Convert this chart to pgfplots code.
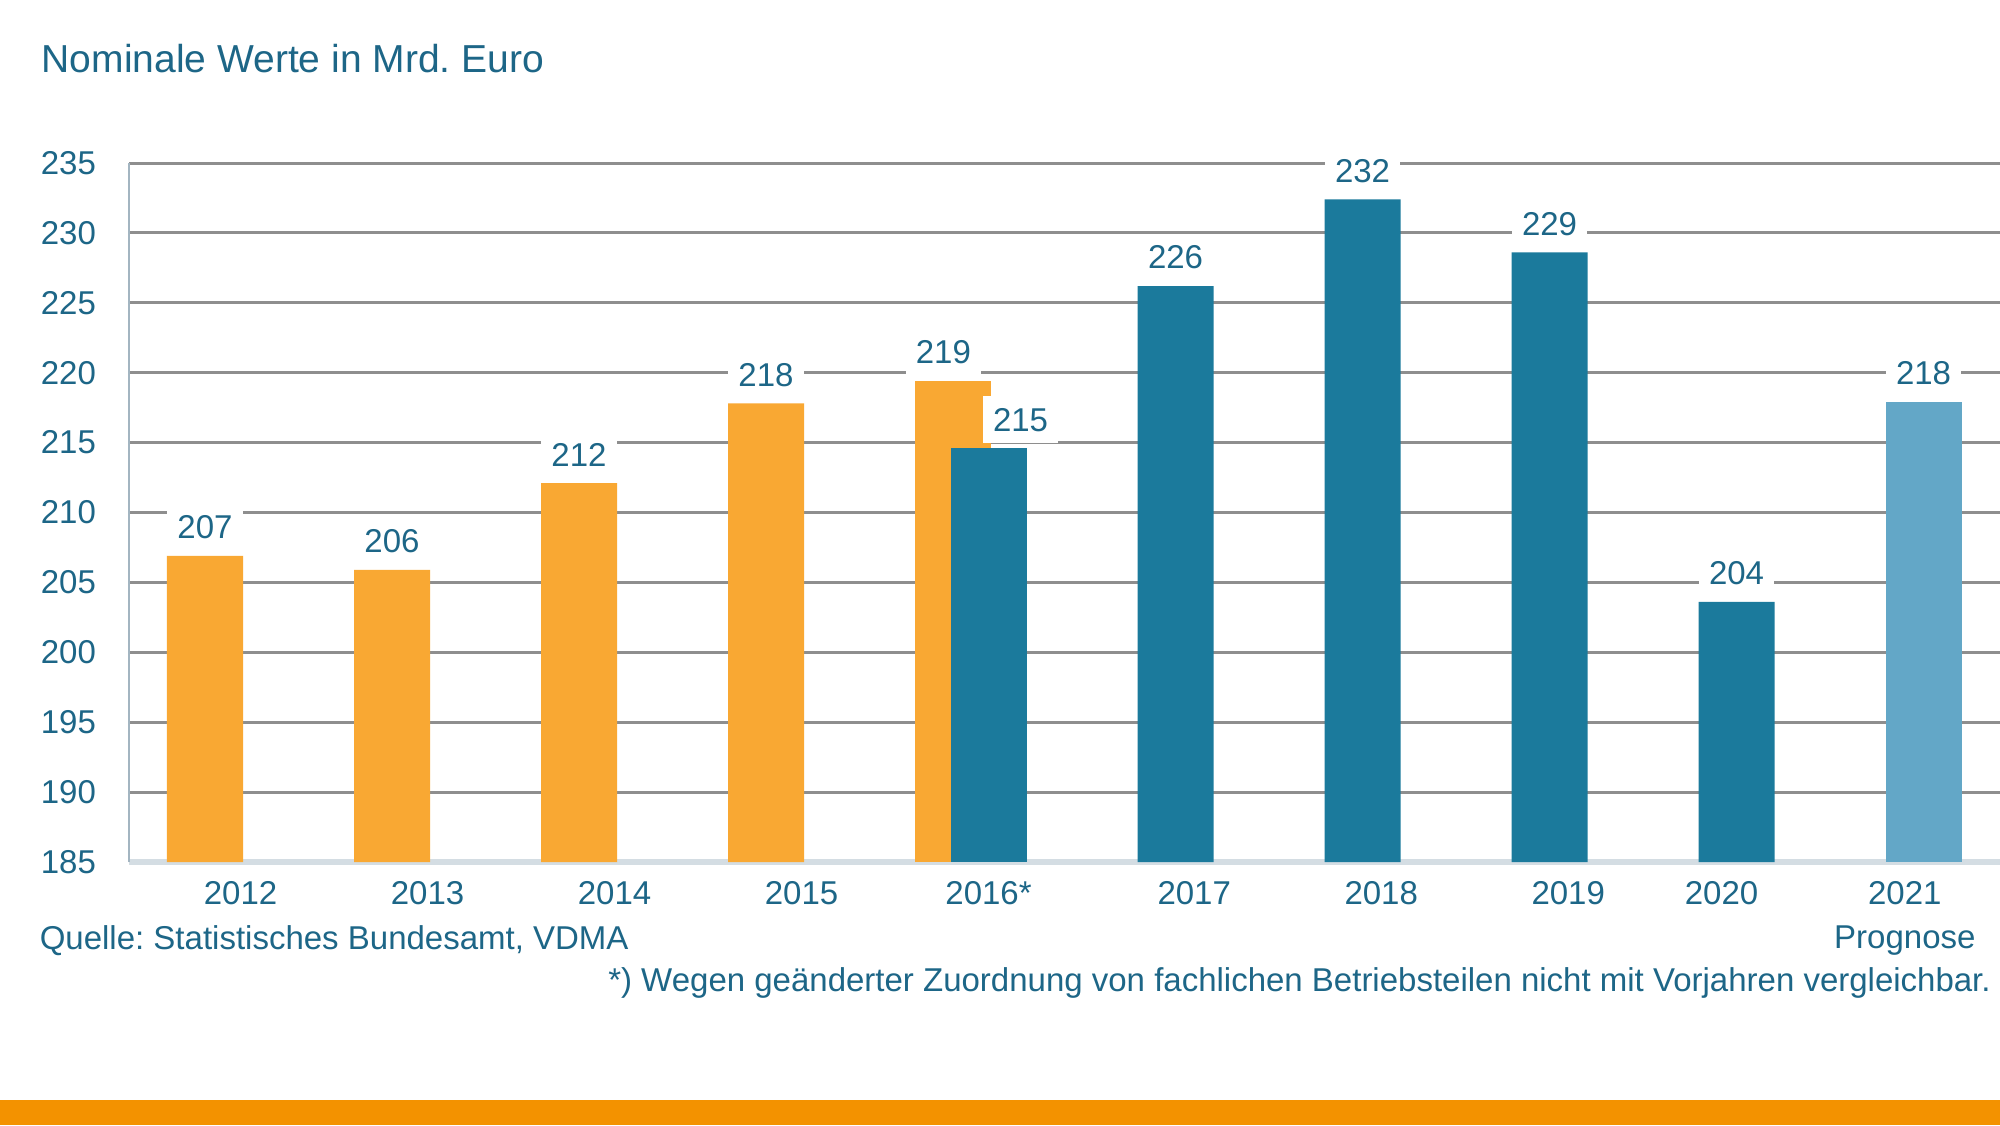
\documentclass[border=0pt]{standalone}
\usepackage{fontspec}
\setmainfont{Liberation Sans}
\usepackage{pgfplots}
\usepackage{pgfplotstable}
\pgfplotsset{compat=1.18}

\definecolor{barorange}{HTML}{F9A833}
\definecolor{barblue}{HTML}{1B7A9C}
\definecolor{barlight}{HTML}{63A7C7}
\definecolor{textcol}{HTML}{1D6687}
\definecolor{gridcol}{HTML}{8E8E8E}
\definecolor{axisleft}{HTML}{A3B5C1}
\definecolor{axisbottom}{HTML}{D4DDE3}
\definecolor{band}{HTML}{F39200}

% Umsatz Maschinenbau, nominal in Mrd. Euro
% alte Abgrenzung (bis 2016)
\pgfplotstableread{
x y
0 206.9
1 205.9
2 212.1
3 217.8
}\altA
\pgfplotstableread{
x y
4 219.4
}\altB
% neue Abgrenzung (ab 2016)
\pgfplotstableread{
x y
4.19 214.6
}\neuA
\pgfplotstableread{
x y
5.19 226.2
6.19 232.4
7.19 228.6
8.19 203.6
}\neuB
% Prognose
\pgfplotstableread{
x y
9.19 217.9
}\prog

\newcommand\smallfont{\fontsize{8.25}{10}\selectfont}

\begin{document}
\frenchspacing
\begin{tikzpicture}[x=1pt,y=1pt]
\useasboundingbox (0,0) rectangle (500,281.25);
\fill[white] (0,0) rectangle (500,281.25);

\node[anchor=base west, inner sep=0, text=textcol,
      font=\fontsize{9.75}{12}\selectfont] at (10.25,263) {Nominale Werte in Mrd. Euro};

\begin{axis}[
  at={(32.25pt,65.75pt)}, anchor=south west,
  scale only axis, width=467.75pt, height=174.75pt,
  xmin=-0.4064, xmax=9.599, ymin=185, ymax=235,
  enlargelimits=false, clip=false,
  axis x line*=bottom, axis y line*=left,
  x axis line style={draw=axisbottom, line width=1.5pt},
  y axis line style={draw=axisleft, line width=0.5pt},
  major tick length=0pt,
  ytick={190,195,...,235},
  extra y ticks={185},
  extra y tick style={grid=none},
  ymajorgrids,
  grid style={draw=gridcol, line width=0.75pt},
  xtick={0.19,1.19,2.19,3.19,4.19,5.29,6.29,7.29,8.11,9.09},
  xticklabels={2012,2013,2014,2015,2016*,2017,2018,2019,2020,2021},
  extra x ticks={9.09},
  extra x tick labels={Prognose},
  extra x tick style={xticklabel style={yshift=-11pt}},
  tick label style={font=\smallfont, text=textcol},
  xticklabel style={yshift=-1.35pt},
  yticklabel style={xshift=-4.75pt},
  /pgf/number format/assume math mode=true,
  ybar, bar width=19pt,
  nodes near coords={\pgfmathprintnumber[fixed,precision=0]{\pgfplotspointmeta}},
  every node near coord/.append style={fill=white, inner xsep=2.5pt,
      inner ysep=3pt, yshift=1pt, font=\smallfont, text=textcol},
]
\addplot[fill=barorange, draw=none, bar shift=0pt] table[x=x, y=y] {\altA};
\addplot[fill=barorange, draw=none, bar shift=0pt,
  every node near coord/.append style={xshift=-2.4pt}] table[x=x, y=y] {\altB};
\addplot[fill=barblue, draw=none, bar shift=0pt,
  every node near coord/.append style={xshift=8pt}] table[x=x, y=y] {\neuA};
\addplot[fill=barblue, draw=none, bar shift=0pt] table[x=x, y=y] {\neuB};
\addplot[fill=barlight, draw=none, bar shift=0pt] table[x=x, y=y] {\prog};
\end{axis}

\node[anchor=base west, inner sep=0, text=textcol, font=\smallfont] at (9.75,44)
  {Quelle: Statistisches Bundesamt, VDMA};
\node[anchor=base east, inner sep=0, text=textcol, font=\smallfont] at (497.9,33.5)
  {*) Wegen geänderter Zuordnung von fachlichen Betriebsteilen nicht mit Vorjahren vergleichbar.};

\fill[band] (0,0) rectangle (500,6.25);
\end{tikzpicture}
\end{document}
